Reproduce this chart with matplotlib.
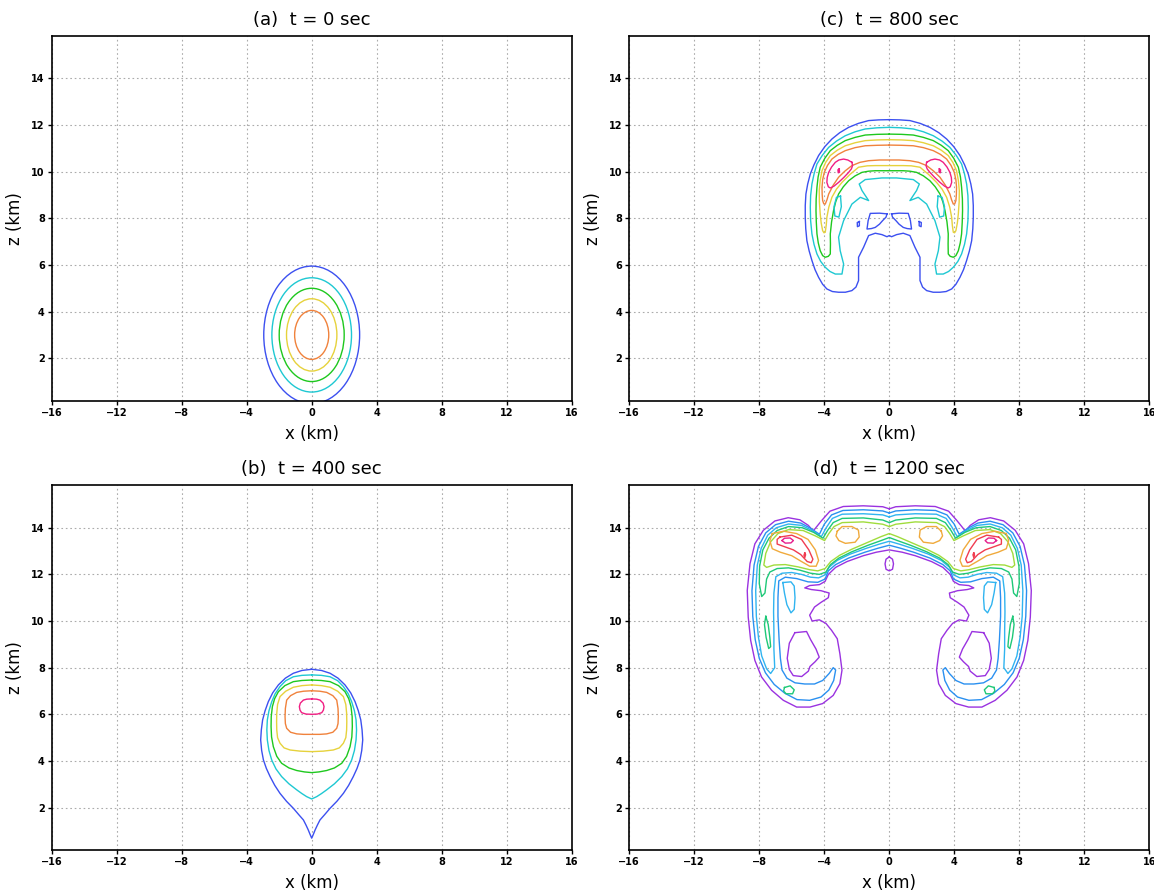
import numpy as np
import matplotlib
matplotlib.use('Agg')
import matplotlib.pyplot as plt
from matplotlib.patches import Ellipse

# ---------------- data (km) ----------------
# (a) t = 0: concentric circles around the bubble centre
A_CENTER = (0.0, 3.0)
A_RADII = [2.95, 2.45, 2.0, 1.55, 1.05]

# (b) t = 400: right halves, traced from top centre to bottom centre
B_BLUE_X = [0, 0.6, 1.13, 1.62, 2.05, 2.4, 2.67, 2.87, 3.02, 3.1, 3.14, 3.08, 2.97, 2.79, 2.56, 2.27,
            1.95, 1.55, 1.13, 0.8, 0.51, 0.35, 0.21, 0.1, 0]
B_BLUE_Y = [7.93, 7.88, 7.76, 7.55, 7.26, 6.92, 6.54, 6.15, 5.76, 5.33, 4.9, 4.45, 4.04, 3.68, 3.33, 2.95,
            2.61, 2.27, 1.97, 1.7, 1.47, 1.25, 1.04, 0.85, 0.69]
B_CYAN_X = [0, 0.6, 1.13, 1.6, 1.95, 2.25, 2.46, 2.63, 2.73, 2.76, 2.73, 2.63, 2.46, 2.2, 1.85, 1.4,
            0.92, 0.6, 0.31, 0]
B_CYAN_Y = [7.69, 7.67, 7.61, 7.44, 7.19, 6.88, 6.54, 6.15, 5.76, 5.33, 4.9, 4.45, 4.04, 3.66, 3.33, 3.02,
            2.76, 2.6, 2.47, 2.37]
B_GREEN_X = [0, 0.6, 1.13, 1.65, 2.05, 2.28, 2.42, 2.49, 2.5, 2.47, 2.36, 2.15, 1.85, 1.4, 0.92, 0.45, 0]
B_GREEN_Y = [7.47, 7.45, 7.4, 7.23, 6.97, 6.67, 6.33, 5.9, 5.47, 5.03, 4.61, 4.2, 3.9, 3.7, 3.59, 3.53, 3.5]
B_YELLOW_X = [0, 0.6, 1.13, 1.6, 1.95, 2.1, 2.15, 2.16, 2.15, 2.1, 1.95, 1.7, 1.33, 0.7, 0]
B_YELLOW_Y = [7.26, 7.23, 7.16, 6.99, 6.76, 6.42, 6.04, 5.68, 5.33, 5.0, 4.76, 4.56, 4.47, 4.42, 4.4]
B_ORANGE_X = [0, 0.5, 0.92, 1.3, 1.54, 1.62, 1.64, 1.62, 1.54, 1.3, 0.92, 0.5, 0]
B_ORANGE_Y = [7.01, 6.99, 6.94, 6.8, 6.61, 6.25, 5.9, 5.6, 5.4, 5.23, 5.16, 5.14, 5.14]
B_PINK_X = [0, 0.3, 0.51, 0.7, 0.76, 0.72, 0.62, 0.35, 0]
B_PINK_Y = [6.66, 6.65, 6.61, 6.48, 6.33, 6.18, 6.07, 6.01, 6.0]

# (c) t = 800: right halves
C_BLUE_X = [0, 0.65, 1.27, 1.9, 2.5, 3.05, 3.53, 3.97, 4.35, 4.63, 4.86, 5.02, 5.13, 5.17, 5.17, 5.14,
            5.07, 4.93, 4.76, 4.57, 4.35, 4.1, 3.84, 3.5, 3.12, 2.7, 2.3, 2.05, 1.89, 1.89, 1.89,
            1.58, 1.27, 0.86, 0.45, 0.14, 0]
C_BLUE_Y = [12.23, 12.22, 12.19, 12.07, 11.9, 11.67, 11.4, 11.07, 10.69, 10.3, 9.9, 9.47, 9.04, 8.55, 8.04,
            7.55, 7.04, 6.6, 6.19, 5.8, 5.47, 5.17, 4.97, 4.86, 4.83, 4.83, 4.9, 5.05, 5.33, 5.9, 6.33,
            6.76, 7.26, 7.36, 7.3, 7.21, 7.26]
C_CYAN_X = [0, 0.75, 1.48, 2.1, 2.71, 3.25, 3.73, 4.12, 4.45, 4.63, 4.76, 4.84, 4.86, 4.84, 4.76, 4.63,
            4.45, 4.22, 3.94, 3.65, 3.32, 2.91, 2.81, 3.02, 3.12, 2.81, 2.3, 1.78, 1.27, 1.68, 1.85,
            1.48, 0.45, 0]
C_CYAN_Y = [11.9, 11.88, 11.83, 11.71, 11.54, 11.31, 11.04, 10.7, 10.33, 9.9, 9.47, 8.97, 8.47, 7.9, 7.33,
            6.88, 6.47, 6.15, 5.9, 5.72, 5.61, 5.61, 6.04, 6.61, 7.19, 7.9, 8.61, 8.9, 8.76, 9.19, 9.47,
            9.66, 9.73, 9.73]
C_GREEN_X = [0, 0.75, 1.48, 2.1, 2.71, 3.2, 3.63, 3.97, 4.25, 4.38, 4.45, 4.5, 4.51, 4.49, 4.45, 4.37,
             4.25, 4.1, 3.94, 3.75, 3.63, 3.62, 3.63, 3.55, 3.43, 3.3, 3.12, 2.83, 2.5, 2.1, 1.68,
             1.27, 0.86, 0]
C_GREEN_Y = [11.61, 11.6, 11.57, 11.47, 11.33, 11.13, 10.9, 10.57, 10.19, 9.77, 9.33, 8.83, 8.33, 7.83,
             7.33, 6.95, 6.61, 6.4, 6.33, 6.37, 6.47, 6.9, 7.33, 7.85, 8.33, 8.7, 9.04, 9.35, 9.61,
             9.82, 9.97, 10.02, 10.04, 10.04]
C_YELLOW_X = [0, 0.75, 1.48, 2.1, 2.71, 3.2, 3.63, 3.92, 4.14, 4.25, 4.31, 4.3, 4.25, 4.19, 4.1, 4.02,
              3.94, 3.88, 3.84, 3.72, 3.53, 3.25, 2.91, 2.42, 1.89, 1.35, 0.86, 0]
C_YELLOW_Y = [11.37, 11.36, 11.33, 11.24, 11.11, 10.92, 10.69, 10.39, 10.04, 9.63, 9.19, 8.7, 8.19, 7.8,
              7.47, 7.38, 7.4, 7.7, 8.04, 8.48, 8.9, 9.25, 9.54, 9.88, 10.19, 10.25, 10.26, 10.26]
C_ORANGE_X = [0, 0.75, 1.48, 2.1, 2.71, 3.15, 3.53, 3.8, 4.0, 4.1, 4.14, 4.13, 4.1, 4.03, 3.94, 3.83,
              3.73, 3.45, 3.12, 2.72, 2.3, 1.8, 1.27, 0.6, 0]
C_ORANGE_Y = [11.14, 11.13, 11.11, 11.03, 10.9, 10.74, 10.54, 10.27, 9.97, 9.65, 9.33, 9.03, 8.76, 8.62,
              8.61, 8.8, 9.04, 9.42, 9.76, 10.03, 10.26, 10.4, 10.47, 10.5, 10.5]
# closed loops on the right side (mirrored to the left)
C_PINK_X = [2.3, 2.55, 2.81, 3.1, 3.32, 3.55, 3.73, 3.82, 3.84, 3.75, 3.63, 3.4, 3.12, 2.8, 2.5, 2.33, 2.26, 2.3]
C_PINK_Y = [10.4, 10.5, 10.54, 10.5, 10.4, 10.2, 9.97, 9.75, 9.54, 9.35, 9.3, 9.38, 9.54, 9.75, 9.97, 10.12, 10.26, 10.4]
C_PINK_DOT_X = [3.08, 3.16, 3.14, 3.06, 3.08]
C_PINK_DOT_Y = [10.12, 10.08, 9.95, 9.98, 10.12]
C_BLUE_LOOP_X = [0.14, 0.6, 1.17, 1.3, 1.37, 1.1, 0.86, 0.6, 0.41, 0.2, 0.14]
C_BLUE_LOOP_Y = [8.19, 8.22, 8.21, 7.9, 7.54, 7.56, 7.61, 7.75, 7.9, 8.05, 8.19]
C_BLUE_DOT_X = [1.84, 1.97, 1.96, 1.84, 1.84]
C_BLUE_DOT_Y = [7.86, 7.82, 7.64, 7.68, 7.86]
C_CYAN_LOOP_X = [3.0, 3.25, 3.4, 3.35, 3.1, 2.95, 3.0]
C_CYAN_LOOP_Y = [8.95, 8.9, 8.5, 8.1, 8.05, 8.5, 8.95]

# (d) t = 1200: left halves, traced from top centre round the outside and back
D_PURPLE_X = [0, -0.4, -1.6, -2.83, -3.65, -4.16, -4.68, -4.98, -5.5, -6.22, -7.04, -7.75, -8.27,
              -8.57, -8.74, -8.68, -8.53, -8.27, -7.86, -7.24, -6.52, -5.7, -4.88, -4.1, -3.45,
              -3.04, -2.91, -3.04, -3.2, -3.55, -3.9, -4.3, -4.75, -4.9, -4.6, -4.2, -3.75, -3.7,
              -4.2, -4.8, -5.2, -4.9, -4.3, -3.95, -3.75, -3.3, -2.6, -1.6, -0.8, 0]
D_PURPLE_Y = [14.81, 14.9, 14.94, 14.91, 14.71, 14.31, 13.86, 14.1, 14.34, 14.43, 14.29, 13.89, 13.31,
              12.46, 11.31, 10.17, 9.17, 8.31, 7.6, 7.03, 6.6, 6.31, 6.31, 6.46, 6.81,
              7.31, 7.89, 8.6, 9.24, 9.6, 9.9, 10.05, 10.0, 10.25, 10.6, 10.8, 11.0, 11.2,
              11.3, 11.35, 11.42, 11.52, 11.56, 11.7, 12.0, 12.3, 12.55, 12.8, 12.95, 13.05]
D_HOLE_X = [-5.81, -5.09, -4.84, -4.51, -4.31, -4.57, -4.88, -4.98, -5.39, -5.91, -6.15, -6.28, -6.15, -5.81]
D_HOLE_Y = [9.5, 9.55, 9.2, 8.8, 8.45, 8.25, 8.05, 7.85, 7.62, 7.66, 7.92, 8.4, 9.05, 9.5]
D_OVAL_X = [0, 0.2, 0.26, 0.2, 0, -0.2, -0.26, -0.2, 0]
D_OVAL_Y = [12.75, 12.65, 12.45, 12.22, 12.15, 12.22, 12.45, 12.65, 12.75]

D_BLUE1_X = [0, -0.4, -1.6, -2.85, -3.55, -4.0, -4.3, -4.85, -5.45, -6.2, -7.0, -7.6, -8.05, -8.32,
             -8.45, -8.4, -8.25, -8.0, -7.62, -7.08, -6.42, -5.68, -4.9, -4.2, -3.72, -3.42, -3.3,
             -3.45, -3.7, -4.1, -4.6, -5.2, -5.8, -6.3, -6.6, -6.7, -6.78, -6.85, -6.85, -6.8,
             -6.4, -5.7, -5.0, -4.4, -3.95, -3.75, -3.3, -2.5, -1.5, -0.7, 0]
D_BLUE1_Y = [14.63, 14.72, 14.77, 14.74, 14.55, 14.15, 13.72, 13.98, 14.2, 14.28, 14.13, 13.78, 13.2, 12.4,
             11.3, 10.2, 9.2, 8.4, 7.78, 7.28, 6.9, 6.63, 6.6, 6.74, 7.04, 7.45, 7.9,
             8.0, 7.75, 7.45, 7.3, 7.3, 7.35, 7.55, 7.9, 8.4, 9.2, 10.2, 11.0, 11.72,
             11.88, 11.82, 11.68, 11.66, 11.8, 12.15, 12.42, 12.7, 12.95, 13.12, 13.25]
D_BLUE2_X = [0, -0.4, -1.6, -2.9, -3.5, -3.88, -4.18, -4.75, -5.4, -6.2, -6.95, -7.48, -7.88, -8.12,
             -8.22, -8.18, -8.05, -7.85, -7.55, -7.3, -7.05, -7.1, -7.1, -7.12, -7.1, -6.98,
             -6.6, -6.0, -5.4, -4.85, -4.35, -3.95, -3.72, -3.2, -2.4, -1.4, -0.6, 0]
D_BLUE2_Y = [14.46, 14.55, 14.6, 14.58, 14.4, 14.0, 13.62, 13.88, 14.1, 14.16, 14.0, 13.68, 13.12, 12.4,
             11.3, 10.2, 9.3, 8.5, 7.95, 7.75, 8.0, 8.8, 9.6, 10.4, 11.2, 11.9,
             12.05, 12.08, 12.0, 11.88, 11.85, 11.98, 12.3, 12.6, 12.87, 13.12, 13.3, 13.42]
D_GREEN_X = [0, -0.4, -1.6, -2.9, -3.45, -3.8, -4.08, -4.65, -5.35, -6.2, -6.9, -7.4, -7.78, -7.98,
             -8.0, -7.85, -7.65, -7.55, -7.35, -6.9, -6.2, -5.5, -4.85, -4.3, -3.9, -3.62, -3.1,
             -2.3, -1.3, -0.5, 0]
D_GREEN_Y = [14.22, 14.33, 14.42, 14.4, 14.22, 13.88, 13.55, 13.8, 14.0, 14.05, 13.88, 13.55, 13.05, 12.35,
             11.6, 11.05, 11.2, 11.8, 12.1, 12.25, 12.28, 12.18, 12.05, 12.0, 12.1, 12.42, 12.7,
             12.97, 13.25, 13.45, 13.58]
D_LIME_X = [0, -0.4, -1.6, -2.9, -3.4, -3.72, -3.98, -4.55, -5.3, -6.2, -6.85, -7.3, -7.6, -7.72,
            -7.55, -7.1, -6.4, -5.6, -4.9, -4.4, -3.95, -3.6, -3.05, -2.3, -1.3, -0.5, 0]
D_LIME_Y = [14.05, 14.15, 14.25, 14.22, 14.05, 13.75, 13.45, 13.65, 13.88, 13.92, 13.75, 13.4, 12.9, 12.4,
            12.3, 12.4, 12.42, 12.32, 12.2, 12.15, 12.25, 12.55, 12.82, 13.08, 13.38, 13.62, 13.75]
# closed loops on the left side (mirrored to the right)
D_ORANGE_X = [-7.2, -6.5, -5.7, -5.0, -4.55, -4.35, -4.5, -4.9, -5.4, -6.0, -6.7, -7.2, -7.35, -7.2]
D_ORANGE_Y = [13.75, 13.85, 13.75, 13.5, 13.05, 12.6, 12.35, 12.35, 12.55, 12.8, 12.95, 13.1, 13.45, 13.75]
D_BAR_ORANGE_X = [-3.2, -2.9, -2.3, -1.9, -1.85, -2.1, -2.7, -3.1, -3.28, -3.2]
D_BAR_ORANGE_Y = [13.85, 14.05, 14.05, 13.9, 13.6, 13.38, 13.33, 13.45, 13.65, 13.85]
D_RED_X = [-6.73, -6.0, -5.4, -4.95, -4.7, -4.8, -5.05, -5.45, -5.9, -6.5, -6.9, -6.9, -6.73]
D_RED_Y = [13.6, 13.68, 13.5, 13.05, 12.65, 12.5, 12.55, 12.85, 13.05, 13.2, 13.3, 13.5, 13.6]
D_RED_DOT_X = [-5.2, -5.15, -5.2, -5.25, -5.2]
D_RED_DOT_Y = [12.92, 12.84, 12.72, 12.82, 12.92]
D_MAG_X = [-6.6, -6.45, -6.1, -5.9, -6.05, -6.4, -6.6]
D_MAG_Y = [13.45, 13.55, 13.56, 13.45, 13.35, 13.34, 13.45]
D_FINGER_X = [-6.55, -6.45, -6.3, -6.05, -5.85, -5.8, -5.85, -6.05, -6.55]
D_FINGER_Y = [11.65, 11.2, 10.7, 10.35, 10.5, 11.0, 11.5, 11.68, 11.65]
D_GREEN_LOOP_X = [-7.6, -7.45, -7.35, -7.3, -7.42, -7.58, -7.68, -7.6]
D_GREEN_LOOP_Y = [10.2, 9.85, 9.3, 8.9, 8.82, 9.3, 9.85, 10.2]
D_GREEN_BOT_X = [-6.45, -6.1, -5.85, -5.95, -6.35, -6.5, -6.45]
D_GREEN_BOT_Y = [7.15, 7.22, 7.05, 6.88, 6.88, 7.0, 7.15]

# colours
BLUE, CYAN, GREEN, YELLOW, ORANGE, PINK = '#3c50f0', '#1ec8d2', '#1ec81e', '#e6d23c', '#f0823c', '#f01e82'
PURPLE, BLUE1, BLUE2 = '#9a32e0', '#2a90f0', '#30b4f0'
GREEN_D, LIME, ORANGE_D, RED, MAGENTA = '#1ec878', '#a0dc3c', '#f0aa3c', '#f03c50', '#e61e8c'
LW = 1.0


def setup(ax, title):
    ax.set_xlim(-16, 16)
    ax.set_ylim(0.18, 15.83)
    ax.set_xticks(range(-16, 17, 4))
    ax.set_yticks(range(2, 15, 2))
    ax.set_axisbelow(True)
    ax.grid(True, color='#ababab', linestyle=(0, (1.5, 2.5)), linewidth=0.8)
    ax.tick_params(direction='out', length=3, width=1, labelsize=7, pad=2)
    for lab in ax.get_xticklabels() + ax.get_yticklabels():
        lab.set_fontweight('bold')
    for sp in ax.spines.values():
        sp.set_linewidth(1.2)
    ax.set_title(title, fontsize=13, pad=8)
    ax.set_xlabel('x (km)', fontsize=12, labelpad=5)
    ax.set_ylabel('z (km)', fontsize=12, labelpad=5)


def sym(ax, xs, ys, color):
    # half contour from centre top to centre bottom, closed with its mirror
    xs = np.asarray(xs, float)
    ys = np.asarray(ys, float)
    ax.plot(np.r_[xs, -xs[::-1]], np.r_[ys, ys[::-1]], color=color, lw=LW)


def pair(ax, xs, ys, color):
    xs = np.asarray(xs, float)
    ax.plot(xs, ys, color=color, lw=LW)
    ax.plot(-xs, ys, color=color, lw=LW)


fig = plt.figure(figsize=(11.54, 8.9), dpi=100)
ax_a = fig.add_axes([0.0448, 0.5498, 0.4506, 0.4101])
ax_c = fig.add_axes([0.5453, 0.5498, 0.4506, 0.4101])
ax_b = fig.add_axes([0.0448, 0.0449, 0.4506, 0.4101])
ax_d = fig.add_axes([0.5453, 0.0449, 0.4506, 0.4101])

# (a)
setup(ax_a, '(a)  t = 0 sec')
for r, col in zip(A_RADII, [BLUE, CYAN, GREEN, YELLOW, ORANGE]):
    ax_a.add_patch(Ellipse(A_CENTER, 2 * r, 2 * r, fill=False, edgecolor=col, lw=LW))

# (b)
setup(ax_b, '(b)  t = 400 sec')
sym(ax_b, B_BLUE_X, B_BLUE_Y, BLUE)
sym(ax_b, B_CYAN_X, B_CYAN_Y, CYAN)
sym(ax_b, B_GREEN_X, B_GREEN_Y, GREEN)
sym(ax_b, B_YELLOW_X, B_YELLOW_Y, YELLOW)
sym(ax_b, B_ORANGE_X, B_ORANGE_Y, ORANGE)
sym(ax_b, B_PINK_X, B_PINK_Y, PINK)

# (c)
setup(ax_c, '(c)  t = 800 sec')
sym(ax_c, C_BLUE_X, C_BLUE_Y, BLUE)
sym(ax_c, C_CYAN_X, C_CYAN_Y, CYAN)
sym(ax_c, C_GREEN_X, C_GREEN_Y, GREEN)
sym(ax_c, C_YELLOW_X, C_YELLOW_Y, YELLOW)
sym(ax_c, C_ORANGE_X, C_ORANGE_Y, ORANGE)
pair(ax_c, C_PINK_X, C_PINK_Y, PINK)
pair(ax_c, C_PINK_DOT_X, C_PINK_DOT_Y, PINK)
pair(ax_c, C_BLUE_LOOP_X, C_BLUE_LOOP_Y, BLUE)
pair(ax_c, C_BLUE_DOT_X, C_BLUE_DOT_Y, BLUE)
pair(ax_c, C_CYAN_LOOP_X, C_CYAN_LOOP_Y, CYAN)

# (d)
setup(ax_d, '(d)  t = 1200 sec')
sym(ax_d, D_PURPLE_X, D_PURPLE_Y, PURPLE)
pair(ax_d, D_HOLE_X, D_HOLE_Y, PURPLE)
ax_d.plot(D_OVAL_X, D_OVAL_Y, color=PURPLE, lw=LW)
sym(ax_d, D_BLUE1_X, D_BLUE1_Y, BLUE1)
sym(ax_d, D_BLUE2_X, D_BLUE2_Y, BLUE2)
sym(ax_d, D_GREEN_X, D_GREEN_Y, GREEN_D)
sym(ax_d, D_LIME_X, D_LIME_Y, LIME)
pair(ax_d, D_ORANGE_X, D_ORANGE_Y, ORANGE_D)
pair(ax_d, D_BAR_ORANGE_X, D_BAR_ORANGE_Y, ORANGE_D)
pair(ax_d, D_RED_X, D_RED_Y, RED)
pair(ax_d, D_RED_DOT_X, D_RED_DOT_Y, RED)
pair(ax_d, D_MAG_X, D_MAG_Y, MAGENTA)
pair(ax_d, D_FINGER_X, D_FINGER_Y, BLUE2)
pair(ax_d, D_GREEN_LOOP_X, D_GREEN_LOOP_Y, GREEN_D)
pair(ax_d, D_GREEN_BOT_X, D_GREEN_BOT_Y, GREEN_D)

fig.savefig('out.png', dpi=100)
plt.close(fig)
